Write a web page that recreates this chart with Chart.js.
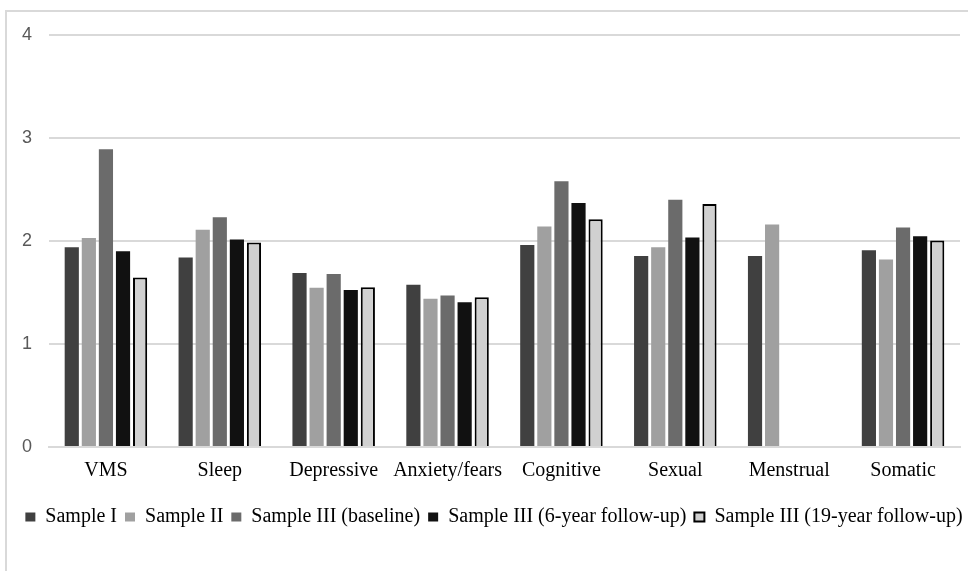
<!DOCTYPE html>
<html>
<head>
<meta charset="utf-8">
<script src="https://cdn.jsdelivr.net/npm/chart.js@4.4.1/dist/chart.umd.min.js"></script>
<style>
  html, body { margin: 0; padding: 0; background: #fff; overflow: hidden; }
  #frame {
    position: absolute; left: 5px; top: 10px; width: 1000px; height: 600px;
    border: 2px solid #d9d9d9; box-sizing: border-box;
  }
  #wrap { position: absolute; left: 0; top: 0; width: 968px; height: 571px; }
</style>
</head>
<body>
<div id="frame"></div>
<div id="wrap"><canvas id="chart"></canvas></div>
<script>
// Symptom domains along the x axis
const categories = ["VMS", "Sleep", "Depressive", "Anxiety/fears", "Cognitive", "Sexual", "Menstrual", "Somatic"];

// Mean scores per sample
const sampleI = [1.94, 1.84, 1.69, 1.575, 1.96, 1.855, 1.855, 1.91];
const sampleII = [2.03, 2.11, 1.545, 1.44, 2.14, 1.94, 2.16, 1.82];
const sampleIIIBase = [2.89, 2.23, 1.68, 1.47, 2.58, 2.40, null, 2.13];
const sampleIII6 = [1.90, 2.015, 1.525, 1.405, 2.37, 2.035, null, 2.045];
const sampleIII19 = [1.645, 1.985, 1.55, 1.455, 2.21, 2.36, null, 2.005];

const yTicks = [0, 1, 2, 3, 4];

const serif = "'Liberation Serif', 'Times New Roman', serif";

// The original legend sits a little right of centre; nudge it after layout.
const shiftLegend = {
  id: "shiftLegend",
  afterLayout(chart) {
    chart.legend.left += 14;
    chart.legend.right += 14;
  },
};

const ctx = document.getElementById("chart").getContext("2d");

new Chart(ctx, {
  type: "bar",
  data: {
    labels: categories,
    datasets: [
      { label: "Sample I", data: sampleI, backgroundColor: "#404040", borderWidth: 0 },
      { label: "Sample II", data: sampleII, backgroundColor: "#a0a0a0", borderWidth: 0 },
      { label: "Sample III (baseline)", data: sampleIIIBase, backgroundColor: "#6b6b6b", borderWidth: 0 },
      { label: "Sample III (6-year follow-up)", data: sampleIII6, backgroundColor: "#111111", borderWidth: 0 },
      { label: "Sample III (19-year follow-up)", data: sampleIII19, backgroundColor: "#d0d0d0", borderColor: "#000000", borderWidth: 2 },
    ],
  },
  plugins: [shiftLegend],
  options: {
    animation: false,
    responsive: true,
    maintainAspectRatio: false,
    layout: { padding: { top: 35, right: 8, bottom: 34, left: 0 } },
    datasets: {
      bar: { categoryPercentage: 0.75, barPercentage: 0.83 },
    },
    plugins: {
      tooltip: { enabled: false },
      legend: {
        position: "bottom",
        labels: {
          boxWidth: 10,
          boxHeight: 9,
          padding: 8,
          color: "#000",
          font: { family: serif, size: 20 },
        },
      },
    },
    scales: {
      x: {
        grid: { display: false },
        border: { color: "#d9d9d9", width: 2 },
        ticks: {
          color: "#000",
          padding: 4,
          autoSkip: false,
          maxRotation: 0,
          minRotation: 0,
          font: { family: serif, size: 20 },
        },
        afterFit(scale) { scale.height = 52; },
      },
      y: {
        min: 0,
        max: 4,
        afterBuildTicks(scale) { scale.ticks = yTicks.map((v) => ({ value: v })); },
        grid: { color: "#d9d9d9", lineWidth: 2, drawTicks: false },
        border: { display: false },
        ticks: {
          color: "#595959",
          padding: 17,
          font: { family: "'Liberation Sans', sans-serif", size: 18 },
        },
        afterFit(scale) { scale.width = 49; },
      },
    },
  },
});
</script>
</body>
</html>
